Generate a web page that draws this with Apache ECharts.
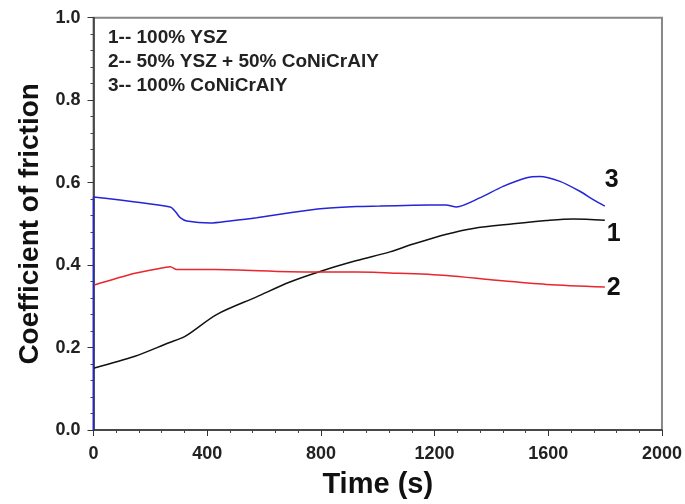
<!DOCTYPE html>
<html>
<head>
<meta charset="utf-8">
<script src="https://cdn.jsdelivr.net/npm/echarts@6/dist/echarts.min.js"></script>
<style>html,body{margin:0;padding:0;background:#fff}#c{width:685px;height:504px}</style>
</head>
<body>
<div id="c"></div>
<script>
// Curve 1: 100% YSZ (black)
const ysz = [[0,0.150],[146,0.179],[263,0.211],[322,0.227],[433,0.280],[574,0.323],[691,0.359],[808,0.387],[926,0.411],[1043,0.432],[1125,0.451],[1242,0.475],[1336,0.489],[1477,0.500],[1594,0.508],[1688,0.512],[1799,0.509]];
// Curve 2: 50% YSZ + 50% CoNiCrAlY (red)
const mix = [[0,0.351],[146,0.380],[251,0.394],[270,0.396],[293,0.389],[427,0.389],[691,0.384],[926,0.383],[1043,0.381],[1242,0.375],[1418,0.363],[1594,0.353],[1799,0.347]];
// Curve 3: 100% CoNiCrAlY (blue)
const conicraly = [[0,0],[0,0.565],[270,0.541],[290,0.528],[305,0.515],[328,0.507],[411,0.502],[480,0.507],[574,0.515],[691,0.527],[808,0.537],[926,0.542],[1007,0.543],[1125,0.545],[1240,0.546],[1277,0.541],[1359,0.563],[1441,0.591],[1524,0.612],[1570,0.615],[1641,0.603],[1711,0.579],[1758,0.559],[1799,0.543]];
const legendLines = ['1-- 100% YSZ','2-- 50% YSZ + 50% CoNiCrAlY','3-- 100% CoNiCrAlY'];
const curveTags = ['1','2','3'];

const FONT = '"Liberation Sans", Arial, sans-serif';
const chart = echarts.init(document.getElementById('c'));
function endLbl(txt, off){
  return {show:true, formatter: txt, offset: off, color:'#111', fontSize:25, fontWeight:'bold', fontFamily:FONT, distance:2};
}
chart.setOption({
  animation:false,
  backgroundColor:'#fff',
  title:{
    text: legendLines.join('\n'),
    left: 103, top: 21,
    textStyle:{fontFamily:FONT, fontWeight:'bold', fontSize:19, color:'#222', lineHeight:24}
  },
  grid:{left:93.5, right:23, top:17.7, bottom:69.5, show:true, borderColor:'#888', borderWidth:2},
  xAxis:{
    type:'value', min:0, max:2000, interval:400,
    name:'Time (s)', nameLocation:'middle', nameGap:40,
    nameTextStyle:{fontFamily:FONT, fontWeight:'bold', fontSize:29, color:'#111'},
    axisLine:{show:true, lineStyle:{color:'#333', width:1.5}},
    axisTick:{show:true, length:6, lineStyle:{color:'#333'}},
    minorTick:{show:true, splitNumber:5, length:3, lineStyle:{color:'#444'}},
    splitLine:{show:false},
    axisLabel:{fontFamily:FONT, fontWeight:'bold', fontSize:18, color:'#222', margin:15,
      formatter: v => String(v)}
  },
  yAxis:{
    type:'value', min:0, max:1, interval:0.2,
    name:'Coefficient of friction', nameLocation:'middle', nameGap:48,
    nameTextStyle:{fontFamily:FONT, fontWeight:'bold', fontSize:28, color:'#111'},
    axisLine:{show:true, lineStyle:{color:'#333', width:1.5}},
    axisTick:{show:true, length:6, lineStyle:{color:'#333'}},
    minorTick:{show:true, splitNumber:5, length:3, lineStyle:{color:'#444'}},
    splitLine:{show:false},
    axisLabel:{fontFamily:FONT, fontWeight:'bold', fontSize:18, color:'#222', margin:13,
      formatter: v => v.toFixed(1)}
  },
  series:[
    {name:'1', type:'line', data:ysz, showSymbol:false, smooth:0.3,
      lineStyle:{color:'#111', width:1.5}, endLabel:endLbl(curveTags[0],[0,14])},
    {name:'2', type:'line', data:mix, showSymbol:false, smooth:0.3,
      lineStyle:{color:'#e8262e', width:1.5}, endLabel:endLbl(curveTags[1],[0,1])},
    {name:'3', type:'line', data:conicraly, showSymbol:false, smooth:0.25,
      lineStyle:{color:'#2424d8', width:1.5}, endLabel:endLbl(curveTags[2],[-2,-26])}
  ]
});
</script>
</body>
</html>
